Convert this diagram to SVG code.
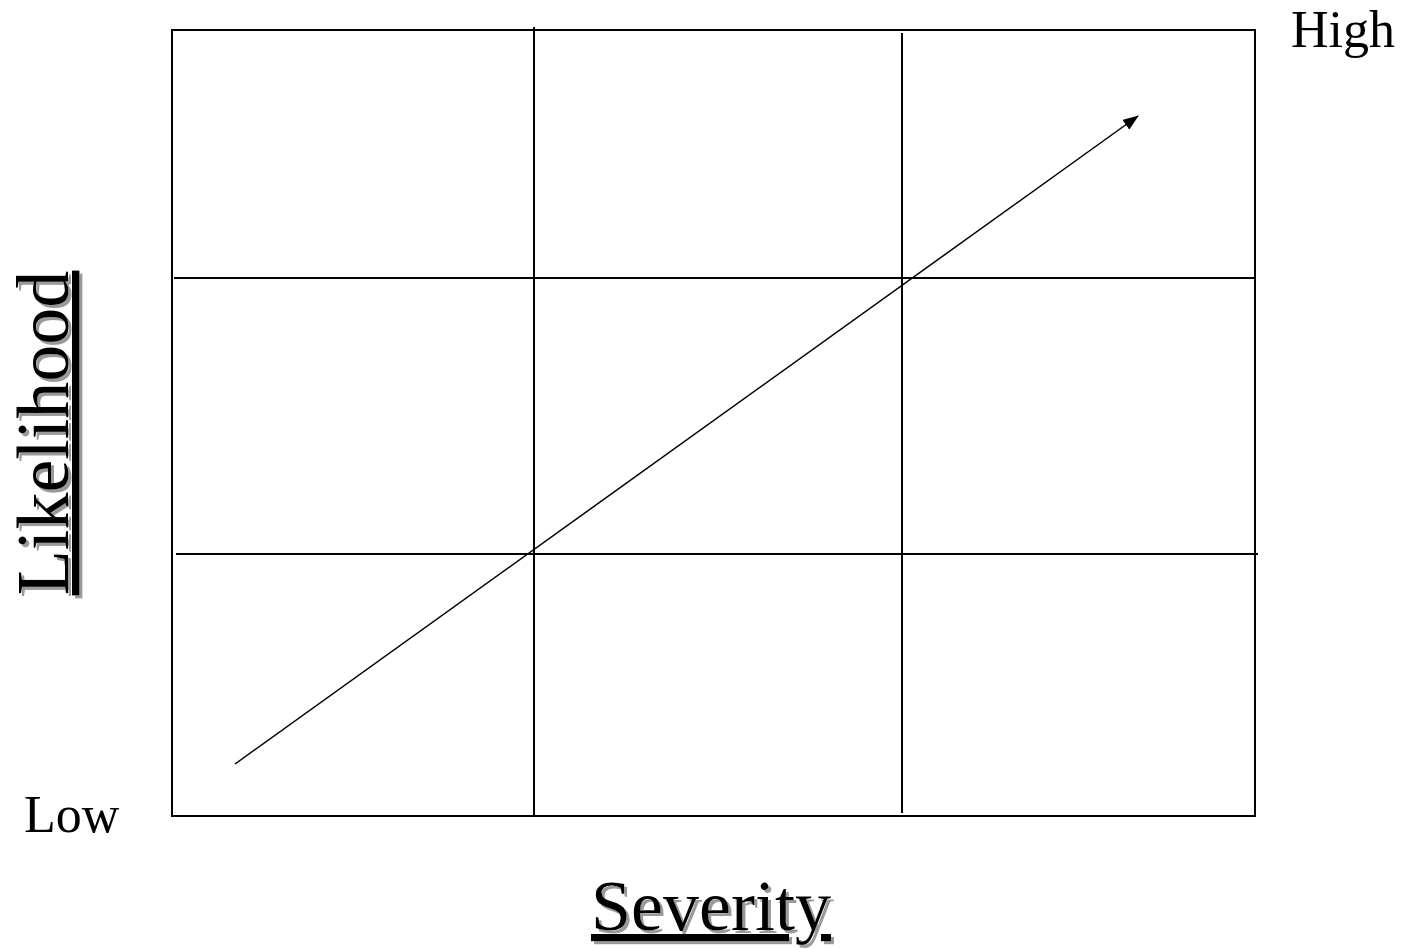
<svg xmlns="http://www.w3.org/2000/svg" width="1404" height="949" viewBox="0 0 1404 949">
<style>
.ln{stroke:#000;stroke-width:2;fill:none}
.lbl{font-family:"Liberation Serif","Times New Roman",serif;fill:#000}
.ttl{font-family:"Liberation Serif","Times New Roman",serif;text-decoration:underline;fill:#000}
</style>
<defs>
<marker id="ah" markerWidth="16" markerHeight="12" refX="15" refY="6" orient="auto" markerUnits="userSpaceOnUse" viewBox="0 0 16 12">
<path d="M0,0 L16,6 L0,12 Z" fill="#000"/>
</marker>
<filter id="shH" x="-10%" y="-20%" width="120%" height="140%">
<feDropShadow dx="3" dy="3" stdDeviation="0" flood-color="#9a9a9a" flood-opacity="1"/>
</filter>
<filter id="shV" x="-10%" y="-20%" width="120%" height="140%">
<feDropShadow dx="-3" dy="3" stdDeviation="0" flood-color="#9a9a9a" flood-opacity="1"/>
</filter>
</defs>
<rect width="1404" height="949" fill="#fff"/>
<g id="grid">
<rect class="ln" x="172" y="30" width="1083" height="786"/>
<line class="ln" x1="534" y1="27" x2="534" y2="816"/>
<line class="ln" x1="902" y1="33" x2="902" y2="813"/>
<line class="ln" x1="174" y1="278" x2="1255" y2="278"/>
<line class="ln" x1="176" y1="554" x2="1258" y2="554"/>
</g>
<g id="connectors">
<line x1="235" y1="764" x2="1138" y2="116" stroke="#000" stroke-width="1.5" marker-end="url(#ah)"/>
</g>
<g id="label-high"><text class="lbl" x="1291" y="47" font-size="52">High</text></g>
<g id="label-low"><text class="lbl" x="24" y="832" font-size="52">Low</text></g>
<g id="title-severity">
<text class="ttl" x="711" y="930" font-size="72" text-anchor="middle" filter="url(#shH)">Severity</text>
</g>
<g id="title-likelihood">
<text class="ttl" transform="translate(68,433) rotate(-90)" x="0" y="0" font-size="74" text-anchor="middle" filter="url(#shV)">Likelihood</text>
</g>
</svg>
